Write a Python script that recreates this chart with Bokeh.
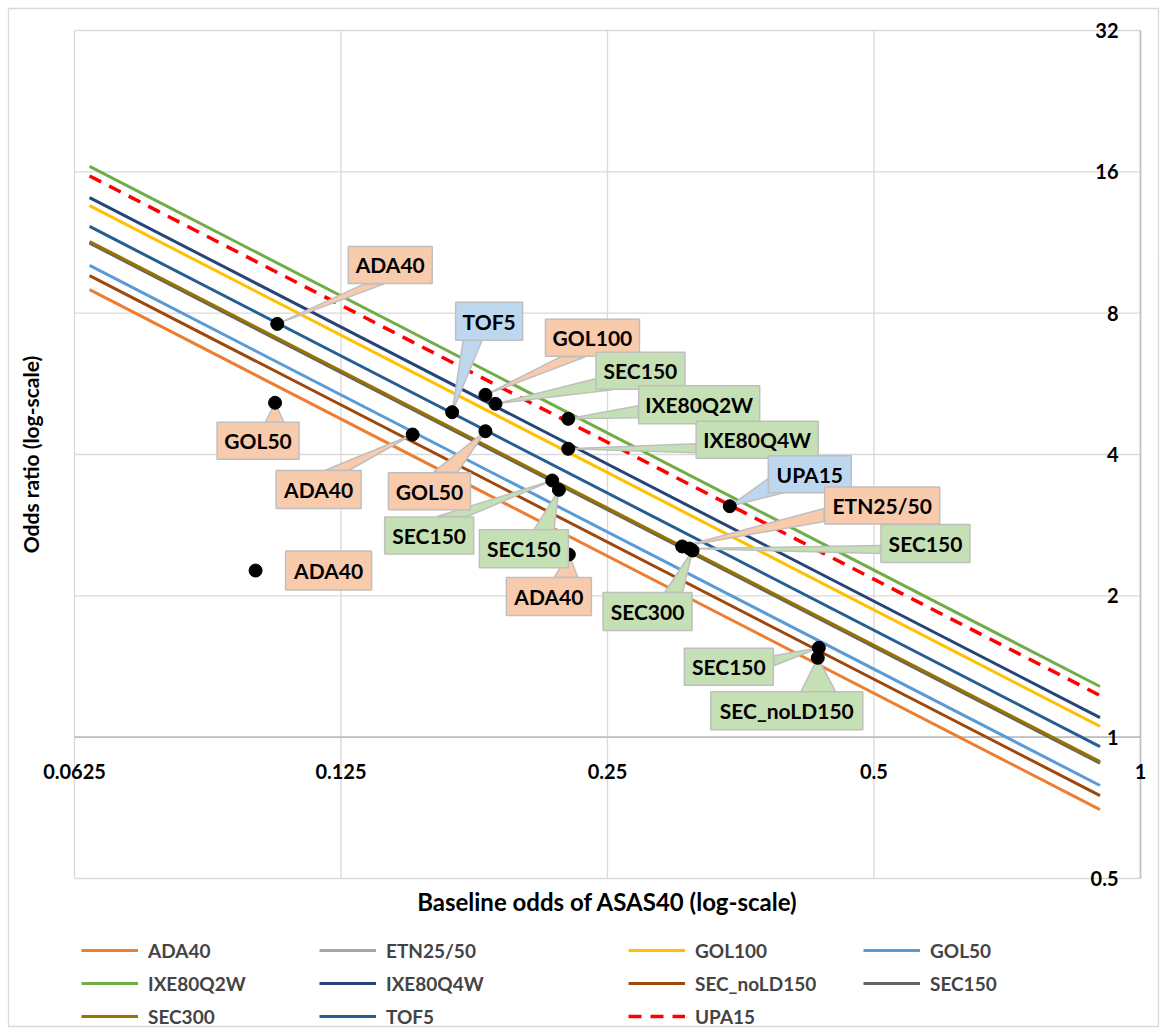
import math
from bokeh.plotting import figure
from bokeh.models import (Range1d, Label, LabelSet, ColumnDataSource, Legend, LegendItem)
from bokeh.core.properties import value
from bokeh.embed import file_html
from bokeh.resources import INLINE

# ---------------- data ----------------
series_names = ["ADA40", "ETN25/50", "GOL100", "GOL50", "IXE80Q2W", "IXE80Q4W",
                "SEC_noLD150", "SEC150", "SEC300", "TOF5", "UPA15"]
line_x = [0.065, 0.9]
or_at_start = [8.98, 11.32, 13.56, 10.11, 16.43, 14.10, 9.62, 11.28, 11.37, 12.24, 15.68]
or_at_end = [0.701, 0.884, 1.054, 0.789, 1.282, 1.101, 0.751, 0.880, 0.887, 0.955, 1.227]

point_labels = ["ADA40", "GOL50", "ADA40", "GOL50", "TOF5", "GOL100", "SEC150",
                "IXE80Q2W", "IXE80Q4W", "UPA15", "ETN25/50", "SEC150", "SEC300",
                "ADA40", "SEC150", "SEC_noLD150", "SEC150", "SEC150", "ADA40"]
point_x = [0.1059, 0.1053, 0.1506, 0.182, 0.1669, 0.182, 0.1868, 0.2257, 0.2257,
           0.3436, 0.3036, 0.3094, 0.3119, 0.2261, 0.4332, 0.4320, 0.2165, 0.2203, 0.1001]
point_y = [7.59, 5.155, 4.412, 4.484, 4.922, 5.360, 5.128, 4.765, 4.113,
           3.104, 2.548, 2.522, 2.498, 2.449, 1.550, 1.476, 3.521, 3.364, 2.264]

x_ticks = [0.0625, 0.125, 0.25, 0.5, 1]
x_tick_labels = ["0.0625", "0.125", "0.25", "0.5", "1"]
y_ticks = [0.5, 1, 2, 4, 8, 16, 32]
y_tick_labels = ["0.5", "1", "2", "4", "8", "16", "32"]

x_title = "Baseline odds of ASAS40 (log-scale)"
y_title = "Odds ratio (log-scale)"

# ---------------- styles / layout ----------------
series_colors = ["#ED7D31", "#A5A5A5", "#FFC000", "#5B9BD5", "#70AD47", "#264478",
                 "#9E480E", "#636363", "#997300", "#255E91", "#FF0000"]
series_dash = ["solid"] * 10 + ["13 9"]
series_width = [3] * 10 + [3.5]

ORANGE, GREEN, BLUE = "#F8CBAD", "#C5E0B4", "#BDD7EE"
# callout layout in screen px relative to its point: box centre, size, leader base points
callouts = [
    (113, -59, 84, 37, (87, -40), (107, -40), ORANGE),
    (-17, 38, 82, 37, (-10, 20), (9, 20), ORANGE),
    (-94, 55, 85, 38, (-88, 36), (-64, 36), ORANGE),
    (-56, 60, 82, 37, (-52, 41), (-28, 41), ORANGE),
    (37, -91, 67, 38, (11, -72), (30, -72), BLUE),
    (107, -57, 94, 37, (75, -38), (100, -38), ORANGE),
    (145, -33, 89, 37, (100, -25), (117, -14), GREEN),
    (131, -14, 121, 38, (70, -13), (70, -1), GREEN),
    (189, -9, 122, 37, (128, -5), (128, 4), GREEN),
    (80, -32, 83, 37, (39, -28), (56, -14), BLUE),
    (200, -41, 115, 37, (142, -38), (142, -25), ORANGE),
    (236, -5, 89, 38, (191, -3), (191, 5), GREEN),
    (-45, 61, 89, 38, (-28, 42), (-10, 42), GREEN),
    (-20, 42, 85, 38, (-15, 23), (9, 23), ORANGE),
    (-90, 19, 89, 37, (-45, 8), (-45, 18), GREEN),
    (-31, 53, 152, 38, (-17, 34), (18, 34), GREEN),
    (-123, 55, 89, 37, (-115, 36), (-85, 36), GREEN),
    (-35, 59, 89, 38, (-25, 40), (-5, 40), GREEN),
    (73, 0, 86, 39, None, None, ORANGE),
]

W, H = 1166, 1034
# plot area in canvas px
PL, PR, PT, PB = 74, 1140, 30, 878
X0, X1, Y0, Y1 = 0.0625, 1.0, 0.5, 32.0
KX = (PR - PL) / math.log2(X1 / X0)
KY = (PB - PT) / math.log2(Y1 / Y0)


def px2data(px, py):
    return X0 * 2 ** ((px - PL) / KX), Y0 * 2 ** ((PB - py) / KY)


def shift(xd, yd, dx, dy):
    return xd * 2 ** (dx / KX), yd * 2 ** (-dy / KY)


XR0, YR0 = px2data(0, H)
XR1, YR1 = px2data(W, 0)

FONT = "Lato"
GRID = "#D9D9D9"
AXIS = "#BFBFBF"

p = figure(width=W, height=H, x_range=Range1d(XR0, XR1), y_range=Range1d(YR0, YR1),
           x_axis_type="log", y_axis_type="log",
           x_axis_location=None, y_axis_location=None,
           toolbar_location=None, output_backend="svg",
           min_border=0)
p.outline_line_color = None
p.background_fill_color = "white"
p.border_fill_color = "white"
p.xgrid.visible = False
p.ygrid.visible = False

# chart-area border
bl, bt = px2data(8, 8)
br, bb = px2data(W - 8, H - 8)
p.quad(left=[bl], right=[br], top=[bt], bottom=[bb], fill_color=None,
       line_color=GRID, line_width=1.3)

# gridlines (plot area only)
p.segment(x0=x_ticks, x1=x_ticks, y0=[Y0] * len(x_ticks), y1=[Y1] * len(x_ticks),
          line_color=GRID, line_width=1.3)
p.segment(x0=[X0] * len(y_ticks), x1=[X1] * len(y_ticks), y0=y_ticks, y1=y_ticks,
          line_color=GRID, line_width=1.3)
# axis lines crossing at 1
p.segment(x0=[X0], x1=[X1], y0=[1], y1=[1], line_color=AXIS, line_width=1.6)
p.segment(x0=[1], x1=[1], y0=[Y0], y1=[Y1], line_color=AXIS, line_width=1.6)

# series lines
renderers = []
for i, name in enumerate(series_names):
    r = p.line(line_x, [or_at_start[i], or_at_end[i]], line_color=series_colors[i],
               line_width=series_width[i], line_dash=series_dash[i], line_cap="butt")
    renderers.append(r)

# leader wedges
wx, wy, wc = [], [], []
for i, c in enumerate(callouts):
    if c[4] is None:
        continue
    xs, ys = [], []
    for (dx, dy) in (c[4], (0, 0), c[5]):
        a, b = shift(point_x[i], point_y[i], dx, dy)
        xs.append(a)
        ys.append(b)
    wx.append(xs)
    wy.append(ys)
    wc.append(c[6])
p.patches(wx, wy, fill_color=wc, line_color=AXIS, line_width=1.5)

# points
p.scatter(point_x, point_y, marker="circle", size=13, fill_color="black", line_color="black")

# boxes + texts
bx, by, bw, bh, bc = [], [], [], [], []
for i, c in enumerate(callouts):
    a, b = shift(point_x[i], point_y[i], c[0], c[1])
    bx.append(a)
    by.append(b)
    bw.append(c[2])
    bh.append(c[3])
    bc.append(c[6])
box_src = ColumnDataSource(dict(x=bx, y=by, w=bw, h=bh, c=bc, t=point_labels))
p.rect("x", "y", width="w", height="h", width_units="screen", height_units="screen",
       fill_color="c", line_color=AXIS, line_width=1.5, source=box_src)
p.text("x", "y", text="t", text_align="center", text_baseline="middle",
       text_font=value(FONT), text_font_style="bold", text_font_size="21px",
       text_color="black", source=box_src)

# tick labels
xt_src = ColumnDataSource(dict(x=x_ticks, y=[1] * len(x_ticks), t=x_tick_labels))
p.add_layout(LabelSet(x="x", y="y", text="t", source=xt_src, y_offset=-34,
                      text_align="center", text_baseline="middle",
                      text_font=value(FONT), text_font_style="bold",
                      text_font_size="20px", text_color="black"))
yt_src = ColumnDataSource(dict(x=[1] * len(y_ticks), y=y_ticks, t=y_tick_labels))
p.add_layout(LabelSet(x="x", y="y", text="t", source=yt_src, x_offset=-22,
                      text_align="right", text_baseline="middle",
                      text_font=value(FONT), text_font_style="bold",
                      text_font_size="20px", text_color="black"))

# axis titles (screen units: from frame left / bottom)
p.add_layout(Label(x=(PL + PR) / 2, y=H - 901, x_units="screen", y_units="screen",
                   text=x_title, text_align="center", text_baseline="middle",
                   text_font=FONT, text_font_style="bold", text_font_size="24px",
                   text_color="black"))
p.add_layout(Label(x=30, y=H - (PT + PB) / 2, x_units="screen", y_units="screen",
                   text=y_title, angle=math.pi / 2, text_align="center",
                   text_baseline="middle", text_font=FONT, text_font_style="bold",
                   text_font_size="21px", text_color="black"))


# legends
def add_legend(idx, loc, lw):
    items = [LegendItem(label=series_names[i], renderers=[renderers[i]]) for i in idx]
    lg = Legend(items=items, location=loc, orientation="horizontal", ncols=2,
                label_text_font=FONT, label_text_font_style="bold",
                label_text_font_size="19px", glyph_width=57, glyph_height=24,
                label_height=24, label_width=lw, label_standoff=10, spacing=9,
                padding=0, margin=0, border_line_color=None, background_fill_alpha=0)
    p.add_layout(lg, "center")


add_legend([0, 1, 4, 5, 8, 9], (81, 6), 162)
add_legend([2, 3, 6, 7, 10], (628, 6), 159)

open("out.html", "w").write(file_html(p, INLINE))
